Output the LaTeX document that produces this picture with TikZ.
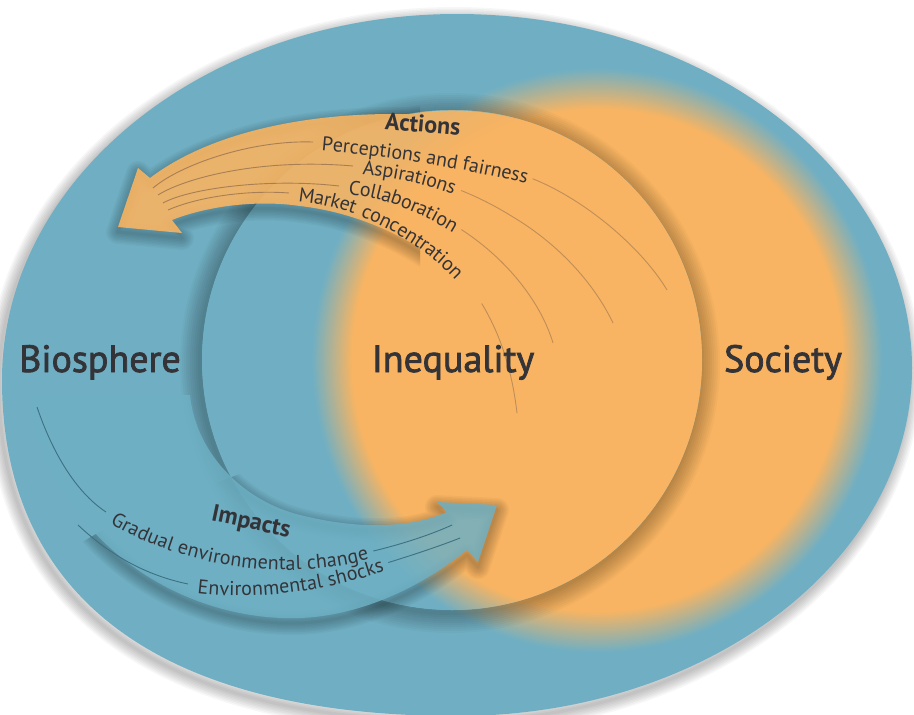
\documentclass[tikz,border=0pt]{standalone}
\usepackage{fontspec}
\setmainfont{PT Sans}
\newfontfamily\semib[FakeBold=2]{PT Sans}
\newfontfamily\spaced[LetterSpace=9]{PT Sans}
\usetikzlibrary{decorations.text}
\definecolor{tealc}{RGB}{112,175,195}
\definecolor{orng}{RGB}{248,180,98}
\definecolor{bandtl}{RGB}{110,176,196}
\definecolor{txt}{RGB}{52,52,56}
\definecolor{brline}{RGB}{168,126,84}
\definecolor{tlline}{RGB}{62,112,132}
\pgfdeclareradialshading{blobshade}{\pgfpoint{0bp}{0bp}}{color(0bp)=(orng); color(21.5bp)=(orng); color(25bp)=(tealc); color(50bp)=(tealc)}
\newcommand\lbl{\fontsize{20}{24}\selectfont}
\newcommand\lblsp{\fontsize{20}{24}\selectfont\spaced}
\newcommand\boldlbl{\fontsize{24}{28}\selectfont\bfseries}
\newcommand\biglbl{\fontsize{38}{44}\selectfont\semib}
\newlength\wA \newlength\wB \newlength\wC \newlength\wD \newlength\wE \newlength\wF
\AtBeginDocument{%
\settowidth{\wA}{\lbl Perceptions and fairness}\addtolength{\wA}{10pt}%
\settowidth{\wB}{\lbl Aspirations}\addtolength{\wB}{10pt}%
\settowidth{\wC}{\lbl Collaboration}\addtolength{\wC}{10pt}%
\settowidth{\wD}{\lblsp Market concentration}\addtolength{\wD}{10pt}%
\settowidth{\wE}{\lbl Gradual environmental change}\addtolength{\wE}{10pt}%
\settowidth{\wF}{\lbl Environmental shocks}\addtolength{\wF}{10pt}%
}
\newcommand\OuterPath{(2,380) .. controls (2,178) and (206,14) .. (457,14) .. controls (708,14) and (912,173) .. (912,368) .. controls (912,560) and (708,716) .. (457,716) .. controls (161,716) and (2,598) .. (2,380) -- cycle}
\newcommand\ActBand{(700,330) arc[start angle=-7, end angle=-100, radius=250] .. controls (330,112) and (220,125) .. (150,178) -- (138,168) -- (118,227) -- (182,233) -- (172,220) .. controls (210,205) and (260,200) .. (300,206) .. controls (380,215) and (450,260) .. (488,305) .. controls (510,335) and (525,380) .. (528,420) .. controls (600,400) and (670,370) .. (700,330) -- cycle}
\newcommand\ImpBand{(190,395) .. controls (195,450) and (240,500) .. (300,515) .. controls (360,530) and (410,528) .. (447,512) -- (437,502) -- (497,505) -- (478,562) -- (467,550) .. controls (430,580) and (370,615) .. (300,618) .. controls (180,622) and (50,540) .. (30,395) -- cycle}
\newcommand\PA{(318,143) .. controls (400,150) and (480,165) .. (528,177) .. controls (580,196) and (640,245) .. (667,290)}
\newcommand\PB{(359,167) .. controls (420,172) and (470,190) .. (513,217) .. controls (560,245) and (595,285) .. (613,323)}
\newcommand\PC{(345,187) .. controls (395,192) and (430,210) .. (462,230) .. controls (505,258) and (540,300) .. (553,343)}
\newcommand\PD{(295,194) .. controls (370,200) and (440,245) .. (475,293) .. controls (500,330) and (512,370) .. (517,413)}
\newcommand\PE{(110,515) .. controls (180,560) and (290,575) .. (365,553) .. controls (400,545) and (430,535) .. (452,525)}
\newcommand\PF{(194,586) .. controls (260,595) and (330,582) .. (377,566) .. controls (410,556) and (440,546) .. (460,538)}
\begin{document}
\begin{tikzpicture}[x=1pt,y=-1pt,
  actline/.style={draw=brline, line width=0.9pt},
  impline/.style={draw=tlline, line width=0.9pt},
  pathtext/.style={decorate, decoration={text along path, text align={left, left indent=4pt}, raise=-7pt, text color=txt}},
  skipfirst/.style={decorate, decoration={curveto, pre=moveto, pre length=#1}},
  biglabel/.style={text=txt, font=\biglbl, anchor=base, inner sep=0pt},
  boldlabel/.style={text=txt, font=\boldlbl, inner sep=0pt},
  shadowline/.style={black, opacity=0.03, line join=round}
]
\useasboundingbox (0,0) rectangle (914,715);
\fill[white] (0,0) rectangle (914,715);
% outer shape with soft shadow
\foreach \w in {3,6,...,24} \draw[shadowline, line width=\w pt, xshift=-3pt, yshift=-5pt] \OuterPath;
\fill[tealc] \OuterPath;
% society blob
\begin{scope}
  \clip \OuterPath;
  \shade[shading=blobshade] (597,360) ellipse [x radius=285, y radius=292];
\end{scope}
% inequality disc: soft shadow then contents
\begin{scope}[even odd rule]
  \clip (-20,-20) rectangle (934,735) (452,360) circle[radius=250];
  \foreach \w in {4,8,...,40} \draw[black, opacity=0.028, line width=\w pt] (450,363) circle[radius=250];
\end{scope}
\begin{scope}
  \clip (452,360) circle[radius=250];
  \fill[tealc] (0,0) rectangle (914,715);
  \shade[shading=blobshade] (597,360) ellipse [x radius=285, y radius=292];
\end{scope}
% impacts band
\begin{scope}
  \clip (0,590) -- (120,520) -- (250,470) -- (520,470) -- (520,715) -- (0,715) -- cycle;
  \foreach \w in {3,6,...,24} \draw[shadowline, line width=\w pt, yshift=-5pt] \ImpBand;
\end{scope}
\fill[bandtl, opacity=0.85] \ImpBand;
% actions band
\begin{scope}
  \clip (0,0) rectangle (420,715);
  \foreach \w in {3,6,...,24} \draw[shadowline, line width=\w pt, yshift=-5pt] \ActBand;
\end{scope}
\fill[orng, opacity=0.9] \ActBand;
% action lines and texts
\draw[actline] (153,188) .. controls (180,165) and (250,140) .. (313,142);
\draw[actline] (158,195) .. controls (185,178) and (260,158) .. (353,166);
\draw[actline] (163,203) .. controls (190,188) and (270,178) .. (339,186);
\draw[actline] (168,210) .. controls (200,196) and (250,190) .. (289,193);
\draw[actline, opacity=0.7, skipfirst=\wA] \PA;
\draw[actline, opacity=0.7, skipfirst=\wB] \PB;
\draw[actline, opacity=0.7, skipfirst=\wC] \PC;
\draw[actline, opacity=0.7, skipfirst=\wD] \PD;
\path[pathtext, decoration={text={|\lbl|Perceptions and fairness}}] \PA;
\path[pathtext, decoration={text={|\lbl|Aspirations}}] \PB;
\path[pathtext, decoration={text={|\lbl|Collaboration}}] \PC;
\path[pathtext, decoration={text={|\lblsp|Market concentration}}] \PD;
% impact lines and texts
\draw[impline] (37,407) .. controls (55,460) and (80,495) .. (106,512);
\draw[impline] (78,525) .. controls (110,555) and (145,575) .. (188,584);
\draw[impline, skipfirst=\wE] \PE;
\draw[impline, skipfirst=\wF] \PF;
\path[pathtext, decoration={text={|\lbl|Gradual environmental change}}] \PE;
\path[pathtext, decoration={text={|\lbl|Environmental shocks}}] \PF;
% labels
\node[boldlabel, rotate=-5] (actions) at (423,124) {Actions};
\node[boldlabel, rotate=-12] (impacts) at (251,523) {Impacts};
\node[biglabel] (bio) at (100,372) {Biosphere};
\node[biglabel] (ineq) at (453,372) {Inequality};
\node[biglabel] (soc) at (783,372) {Society};
\end{tikzpicture}
\end{document}
